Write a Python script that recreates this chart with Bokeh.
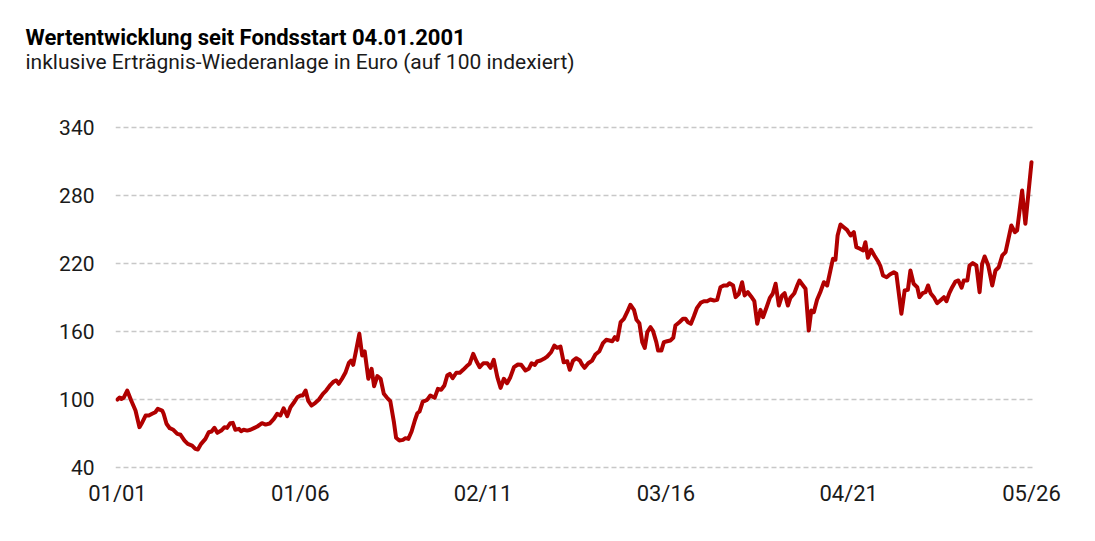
from bokeh.plotting import figure
from bokeh.models import Range1d, FixedTicker, Title
from bokeh.embed import file_html
from bokeh.resources import INLINE

# Dates as fractional years (fund start 04.01.2001), values indexed to 100
dates = [
    2001.01, 2001.07, 2001.12, 2001.18, 2001.28, 2001.39, 2001.51, 2001.62, 2001.70, 2001.79,
    2001.88, 2001.97, 2002.06, 2002.13, 2002.25, 2002.29, 2002.37, 2002.46, 2002.56, 2002.67,
    2002.76, 2002.87, 2002.96, 2003.08, 2003.17, 2003.24, 2003.33, 2003.45, 2003.54, 2003.62,
    2003.70, 2003.78, 2003.89, 2003.98, 2004.05, 2004.14, 2004.21, 2004.28, 2004.38, 2004.44,
    2004.51, 2004.61, 2004.70, 2004.81, 2004.89, 2005.02, 2005.12, 2005.23,
    2005.35, 2005.44, 2005.53, 2005.62, 2005.72, 2005.81, 2005.90, 2006.00, 2006.09, 2006.15,
    2006.23, 2006.30, 2006.39, 2006.50, 2006.60, 2006.71, 2006.80, 2006.92, 2007.01, 2007.08,
    2007.15, 2007.24, 2007.34, 2007.43, 2007.49, 2007.55, 2007.63, 2007.72, 2007.80, 2007.87,
    2007.97, 2008.06, 2008.13, 2008.22, 2008.31, 2008.40, 2008.49, 2008.58, 2008.68, 2008.74,
    2008.83, 2008.93, 2009.00, 2009.08, 2009.17, 2009.26, 2009.33, 2009.39, 2009.48, 2009.56,
    2009.60, 2009.69, 2009.81, 2009.90, 2009.99, 2010.08, 2010.16, 2010.23, 2010.31, 2010.41,
    2010.51, 2010.60, 2010.69, 2010.78, 2010.88, 2010.97, 2011.06, 2011.16, 2011.27, 2011.36,
    2011.45, 2011.55, 2011.64, 2011.73, 2011.82, 2011.91, 2012.01, 2012.12, 2012.21, 2012.33,
    2012.42, 2012.50, 2012.59, 2012.65, 2012.75, 2012.84, 2012.93, 2013.04, 2013.13, 2013.21,
    2013.30, 2013.39, 2013.49, 2013.56, 2013.65, 2013.74, 2013.84,
    2013.90, 2013.97, 2014.07, 2014.18, 2014.27, 2014.38, 2014.48, 2014.57, 2014.66, 2014.74,
    2014.81, 2014.88, 2014.97, 2015.06, 2015.15, 2015.24, 2015.34, 2015.41, 2015.49, 2015.57,
    2015.64, 2015.71, 2015.80, 2015.87, 2015.96, 2016.01, 2016.10, 2016.17, 2016.26, 2016.35,
    2016.43, 2016.49, 2016.60, 2016.70, 2016.77, 2016.84, 2016.92, 2017.00, 2017.09, 2017.19,
    2017.28, 2017.37, 2017.46, 2017.56, 2017.65, 2017.74, 2017.83, 2017.93, 2017.99,
    2018.09, 2018.16, 2018.25, 2018.34, 2018.41, 2018.50, 2018.59, 2018.68, 2018.76, 2018.85,
    2018.92, 2019.02, 2019.11, 2019.19, 2019.27, 2019.36, 2019.45, 2019.52, 2019.61, 2019.68,
    2019.79, 2019.87, 2019.93, 2020.01, 2020.10, 2020.19, 2020.26, 2020.33, 2020.42, 2020.52,
    2020.61, 2020.70, 2020.79, 2020.86, 2020.93, 2020.99, 2021.07, 2021.16, 2021.25, 2021.35,
    2021.44, 2021.51, 2021.61, 2021.70, 2021.76, 2021.83, 2021.92, 2022.01, 2022.11, 2022.18,
    2022.25, 2022.35, 2022.44,
    2022.55, 2022.62, 2022.69, 2022.76, 2022.85, 2022.94, 2023.01, 2023.10, 2023.20, 2023.26,
    2023.35, 2023.43, 2023.50, 2023.57, 2023.66, 2023.75, 2023.84, 2023.94, 2024.01, 2024.09,
    2024.17, 2024.26, 2024.34, 2024.43, 2024.49, 2024.59, 2024.65, 2024.74, 2024.84, 2024.93,
    2025.00, 2025.07, 2025.17, 2025.28, 2025.37, 2025.46, 2025.56, 2025.65, 2025.72, 2025.81,
    2025.91, 2025.97, 2026.11, 2026.20, 2026.37,
]

values = [
    100.0, 101.8, 100.4, 101.5, 107.9, 99.1, 90.3, 75.6, 80.0, 85.9,
    85.9, 87.4, 88.8, 91.8, 90.3, 87.4, 78.6, 74.7, 73.3, 69.7,
    68.9, 63.8, 60.9, 59.4, 56.5, 55.9, 60.9, 65.3, 71.1, 71.8,
    75.0, 70.6, 72.6, 75.6, 75.0, 79.1, 79.4, 73.3, 74.1, 72.0,
    73.3, 72.6, 73.3, 75.0, 76.2, 79.1, 77.9, 78.8,
    83.0, 87.4, 85.9, 92.3, 85.3, 93.2, 97.1, 102.0, 103.5, 103.5,
    107.9, 99.1, 94.7, 97.1, 100.0, 105.0, 107.9, 113.0, 115.9, 116.8,
    113.9, 118.3, 124.1, 132.4, 134.4, 130.6, 143.2, 158.0, 138.8, 142.4,
    118.3, 127.1, 111.7, 120.6, 118.3, 105.0, 101.5, 98.5, 80.0, 66.2,
    63.8, 64.4, 65.9, 65.3, 71.8, 81.5, 87.9, 89.4, 98.2, 99.1,
    99.7, 103.5, 101.5, 109.4, 108.6, 112.4, 121.2, 122.7, 118.8, 123.6,
    123.6, 126.2, 129.1, 131.5, 140.3, 133.8, 128.5, 132.0, 132.0, 128.0,
    135.0, 119.7, 110.3, 118.3, 114.4, 119.7, 128.5, 130.9, 130.6, 125.6,
    127.1, 132.0, 130.6, 133.5, 134.4, 135.9, 137.9, 141.7, 147.6, 145.6,
    146.8, 132.9, 133.8, 126.2, 134.4, 136.4, 134.4,
    130.9, 128.0, 132.0, 134.4, 139.7, 142.6, 149.7, 152.7, 152.1, 151.4,
    155.0, 152.7, 168.2, 171.2, 177.0, 183.6, 179.1, 170.3, 167.3, 150.6,
    145.6, 159.4, 163.8, 160.3, 150.6, 143.2, 143.2, 150.6, 151.4, 152.1,
    154.4, 165.3, 168.2, 171.2, 171.2, 168.2, 166.8, 173.2, 180.9, 185.3,
    186.7, 186.7, 188.2, 187.4, 188.0, 199.1, 200.6, 200.6, 202.6,
    200.6, 190.3, 193.3, 203.5, 191.8, 194.7, 190.9, 186.7, 166.8, 179.1,
    172.6, 181.4, 189.7, 193.3, 202.1, 182.9, 191.8, 193.8, 182.9, 189.7,
    193.8, 200.6, 205.0, 201.5, 197.7, 160.9, 178.5, 177.0, 188.0, 195.6,
    203.5, 200.6, 213.8, 224.1, 223.3, 244.7, 254.4, 252.0, 249.7, 244.7,
    247.6, 234.4, 233.0, 231.5, 238.8, 225.0, 232.1, 227.1, 222.0, 217.4,
    209.4, 207.9, 210.3,
    212.3, 210.9, 193.3, 175.6, 196.2, 196.8, 213.8, 202.1, 199.1, 190.3,
    193.8, 194.7, 200.6, 193.8, 190.3, 185.0, 187.4, 190.3, 186.7, 193.8,
    199.1, 204.1, 205.0, 198.6, 205.0, 205.0, 218.2, 220.3, 218.2, 194.7,
    219.7, 226.2, 218.2, 200.6, 213.8, 216.7, 227.1, 230.0, 240.3, 253.5,
    247.6, 249.1, 284.4, 255.0, 309.4,
]

assert len(dates) == len(values)

x_tick_labels = ["01/01", "01/06", "02/11", "03/16", "04/21", "05/26"]
y_ticks = [40, 100, 160, 220, 280, 340]
first_date, last_date = 2001.01, 2026.37

title_text = "Wertentwicklung seit Fondsstart 04.01.2001"
subtitle_text = "inklusive Erträgnis-Wiederanlage in Euro (auf 100 indexiert)"

FONT = "Roboto"
RED = "#b00000"

x_ticks = [first_date + i * (last_date - first_date) / 5 for i in range(6)]

p = figure(
    width=1087, height=533,
    output_backend="svg", toolbar_location=None,
    x_range=Range1d(2000.955, 2026.453),
    y_range=Range1d(36.5, 343.5),
    min_border_left=115, min_border_right=53,
    min_border_top=123, min_border_bottom=62,
    title=None,
)
p.outline_line_color = None
p.background_fill_color = "white"
p.border_fill_color = "white"

# Above panels stack outward from the frame: spacer, subtitle, title
spacer = Title(text=" ", text_font=FONT, text_font_size="10px", standoff=35)
p.add_layout(spacer, "above")
sub = Title(text=subtitle_text, align="left", vertical_align="top",
            text_font=FONT, text_font_size="21px", text_font_style="normal",
            text_color="#1a1a1a", offset=-90, standoff=0)
p.add_layout(sub, "above")
ttl = Title(text=title_text, align="left", vertical_align="top",
            text_font=FONT, text_font_size="22px", text_font_style="bold",
            text_color="#000000", offset=-90, standoff=-4)
p.add_layout(ttl, "above")

p.line(dates, values, line_width=4, line_color=RED, line_join="round", line_cap="round")

# Axes
p.xaxis.ticker = FixedTicker(ticks=x_ticks)
p.xaxis.major_label_overrides = {t: lab for t, lab in zip(x_ticks, x_tick_labels)}
p.yaxis.ticker = FixedTicker(ticks=y_ticks)
for ax in (p.xaxis, p.yaxis):
    ax.axis_line_color = None
    ax.major_tick_line_color = None
    ax.minor_tick_line_color = None
    ax.major_tick_out = 0
    ax.major_tick_in = 0
    ax.major_label_text_font = FONT
    ax.major_label_text_color = "#1a1a1a"
p.yaxis.major_label_text_font_size = "21px"
p.xaxis.major_label_text_font_size = "22px"
p.yaxis.major_label_standoff = 21
p.xaxis.major_label_standoff = 9

p.xgrid.grid_line_color = None
p.ygrid.grid_line_color = "#c8c8c8"
p.ygrid.grid_line_width = 1.5
p.ygrid.grid_line_dash = "5 3"

open("out.html", "w").write(file_html(p, INLINE))
